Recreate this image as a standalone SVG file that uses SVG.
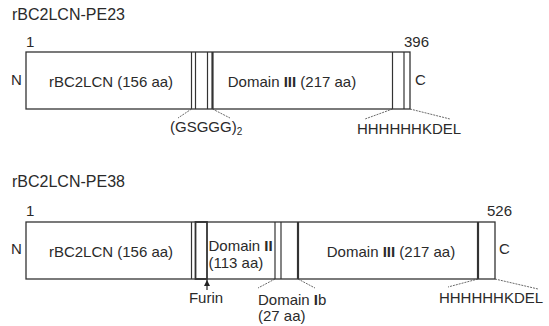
<svg xmlns="http://www.w3.org/2000/svg" width="549" height="326" viewBox="0 0 549 326">
<style>
text{font-family:"Liberation Sans",Arial,sans-serif;font-size:15px;fill:#2a2a2a}
.t{font-size:16px}
.b{font-weight:bold}
.box{fill:#fff;stroke:#333;stroke-width:1.3}
.ln{stroke:#333;stroke-width:1.2;fill:none}
.thk{stroke:#333;stroke-width:2.2;fill:none}
.ds{stroke:#444;stroke-width:0.8;stroke-dasharray:2 1;fill:none}
</style>
<defs>
<marker id="ah" viewBox="0 0 10 10" refX="10" refY="5" markerWidth="6" markerHeight="7" orient="auto" markerUnits="userSpaceOnUse">
<path d="M0,0 L10,5 L0,10 z" fill="#222"/>
</marker>
</defs>
<g id="pe23">
<text class="t" x="12" y="20">rBC2LCN-PE23</text>
<text x="26" y="47">1</text>
<text x="404" y="47">396</text>
<text x="11" y="85">N</text>
<text x="415" y="85">C</text>
<rect class="box" x="26" y="52" width="384" height="57"/>
<line class="ln" x1="191.5" y1="52" x2="191.5" y2="109"/>
<line class="ln" x1="195.5" y1="52" x2="195.5" y2="109"/>
<line class="ln" x1="207.5" y1="52" x2="207.5" y2="109"/>
<line class="thk" x1="212.5" y1="52" x2="212.5" y2="109"/>
<line class="ln" x1="392.5" y1="52" x2="392.5" y2="109"/>
<line class="ln" x1="404" y1="52" x2="404" y2="109"/>
<text x="111" y="87" text-anchor="middle">rBC2LCN (156 aa)</text>
<text x="292" y="87" text-anchor="middle">Domain <tspan class="b">III</tspan> (217 aa)</text>
<text x="170" y="132">(GSGGG)<tspan font-size="10" dy="3">2</tspan></text>
<text x="409" y="134" text-anchor="middle">HHHHHHKDEL</text>
</g>
<g id="pe38">
<text class="t" x="12" y="187">rBC2LCN-PE38</text>
<text x="26" y="216">1</text>
<text x="487" y="216">526</text>
<text x="11" y="254">N</text>
<text x="499" y="254">C</text>
<rect class="box" x="26" y="222" width="469" height="57"/>
<line class="ln" x1="191.5" y1="222" x2="191.5" y2="279"/>
<rect x="195.5" y="222" width="11.5" height="57" fill="none" stroke="#333" stroke-width="1.8"/>
<line class="ln" x1="275" y1="222" x2="275" y2="279"/>
<line class="ln" x1="281" y1="222" x2="281" y2="279"/>
<line class="thk" x1="298" y1="222" x2="298" y2="279"/>
<line class="thk" x1="478" y1="222" x2="478" y2="279"/>
<text x="111" y="257" text-anchor="middle">rBC2LCN (156 aa)</text>
<text x="208.5" y="251" font-size="14.3">Domain <tspan class="b">II</tspan></text>
<text x="208.5" y="268" font-size="14.3">(113 aa)</text>
<text x="391" y="257" text-anchor="middle">Domain <tspan class="b">III</tspan> (217 aa)</text>
<text x="206" y="303" text-anchor="middle">Furin</text>
<text x="258" y="305">Domain <tspan class="b">I</tspan>b</text>
<text x="258" y="321">(27 aa)</text>
<text x="491" y="303" text-anchor="middle">HHHHHHKDEL</text>
</g>
<g id="connectors">
<line class="ds" x1="191.5" y1="109" x2="178" y2="118"/>
<line class="ds" x1="212.5" y1="109" x2="230" y2="118"/>
<line class="ds" x1="392.5" y1="109" x2="365" y2="119"/>
<line class="ds" x1="410" y1="109" x2="450" y2="119"/>
<line class="ds" x1="275" y1="279" x2="258" y2="288"/>
<line class="ds" x1="298" y1="279" x2="315" y2="288"/>
<line class="ds" x1="478" y1="279" x2="448" y2="287"/>
<line class="ds" x1="495" y1="279" x2="538" y2="289"/>
<line x1="207" y1="290" x2="207" y2="280" stroke="#222" stroke-width="1.2" marker-end="url(#ah)"/>
</g>
</svg>
